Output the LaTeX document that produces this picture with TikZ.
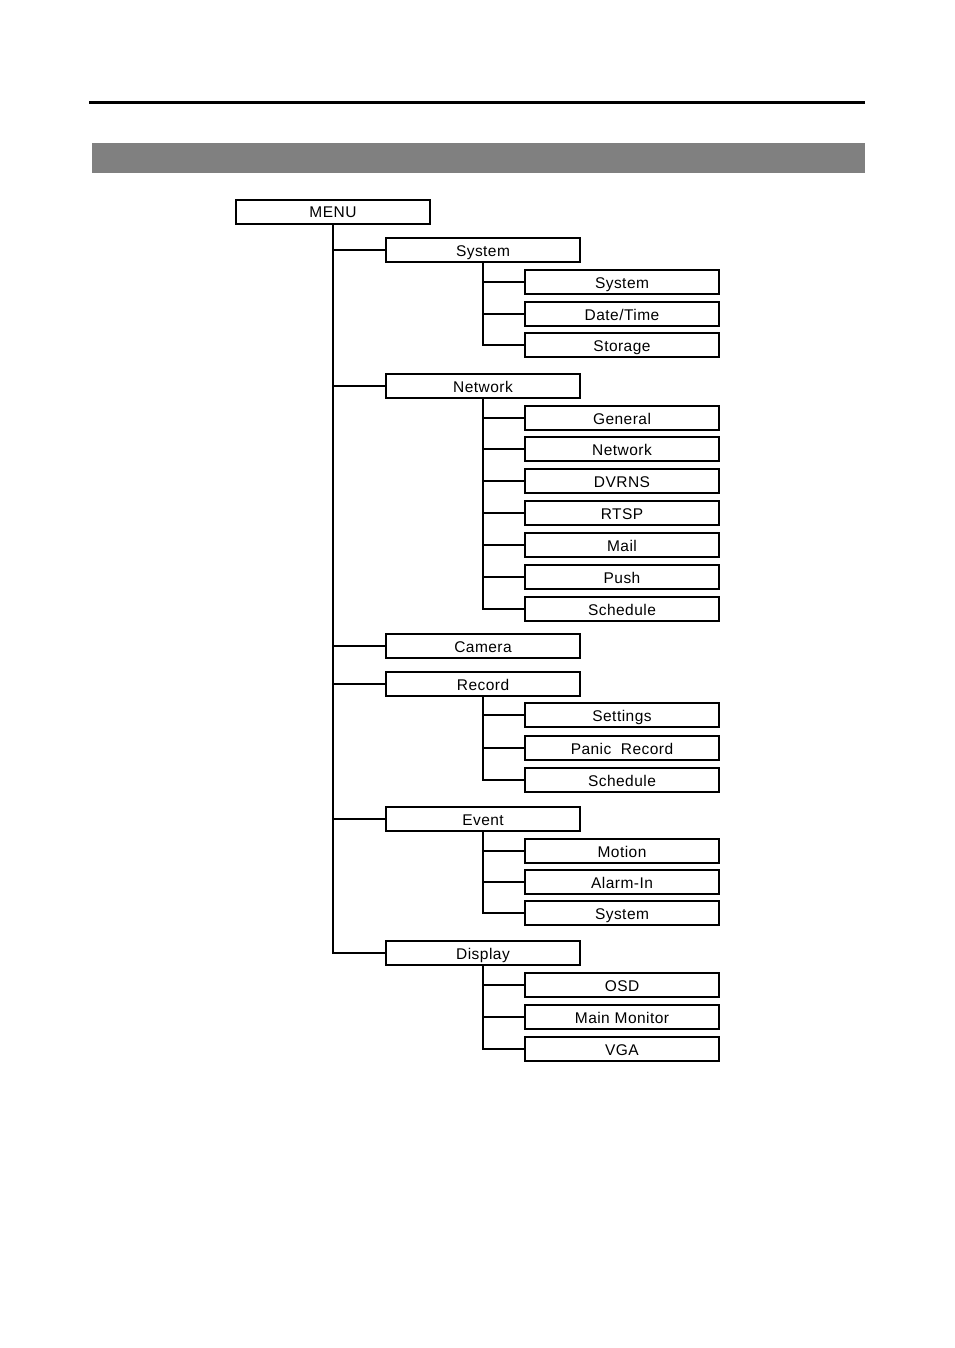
\documentclass[tikz,border=0pt]{standalone}
\usepackage{fontspec}
\setmainfont{Liberation Sans}
\newfontfamily\boxfont[LetterSpace=3]{Liberation Sans}
\begin{document}
\begin{tikzpicture}[x=1pt,y=-1pt,
  box/.style={draw,line width=1.6pt,minimum width=194pt,minimum height=24pt,inner sep=0pt,text height=12pt,text depth=0pt,font=\boxfont\fontsize{15.5}{17}\selectfont},
  conn/.style={line width=1.6pt},
  sub/.style={line width=1.2pt}]
\useasboundingbox (0,0) rectangle (954,1348);
\draw[line width=3pt] (89,103) -- (865,103);
\fill[black!50] (92,143) rectangle (865,173);
\node[box] (menu) at (333,212) {MENU};
% level 1
\node[box] (sys) at (483,250) {System};
\node[box] (net) at (483,386) {Network};
\node[box] (cam) at (483,646) {Camera};
\node[box] (rec) at (483,684) {Record};
\node[box] (evt) at (483,819) {Event};
\node[box] (dis) at (483,953) {Display};
\coordinate (mb) at (333,953);
\draw[conn] (menu.south) -- (mb) -- (dis.west);
\foreach \n in {sys,net,cam,rec,evt}{
  \draw[conn] (menu.south |- \n.west) -- (\n.west);
}
% level 2
\node[box] (s1) at (622,282) {System};
\node[box] (s2) at (622,314) {Date/Time};
\node[box] (s3) at (622,345) {Storage};
\node[box] (n1) at (622,418) {General};
\node[box] (n2) at (622,449) {Network};
\node[box] (n3) at (622,481) {DVRNS};
\node[box] (n4) at (622,513) {RTSP};
\node[box] (n5) at (622,545) {Mail};
\node[box] (n6) at (622,577) {Push};
\node[box] (n7) at (622,609) {Schedule};
\node[box] (r1) at (622,715) {Settings};
\node[box] (r2) at (622,748) {Panic\ \ Record};
\node[box] (r3) at (622,780) {Schedule};
\node[box] (e1) at (622,851) {Motion};
\node[box] (e2) at (622,882) {Alarm-In};
\node[box] (e3) at (622,913) {System};
\node[box] (d1) at (622,985) {OSD};
\node[box] (d2) at (622,1017) {Main Monitor};
\node[box] (d3) at (622,1049) {VGA};
\foreach \p/\a/\b/\c in {sys/s1/s2/s3,rec/r1/r2/r3,evt/e1/e2/e3,dis/d1/d2/d3}{
  \draw[sub] (\p.south) -- (\p.south |- \c.west) -- (\c.west);
  \draw[sub] (\p.south |- \a.west) -- (\a.west);
  \draw[sub] (\p.south |- \b.west) -- (\b.west);
}
\draw[sub] (net.south) -- (net.south |- n7.west) -- (n7.west);
\foreach \c in {n1,n2,n3,n4,n5,n6}{
  \draw[sub] (net.south |- \c.west) -- (\c.west);
}
\end{tikzpicture}
\end{document}
